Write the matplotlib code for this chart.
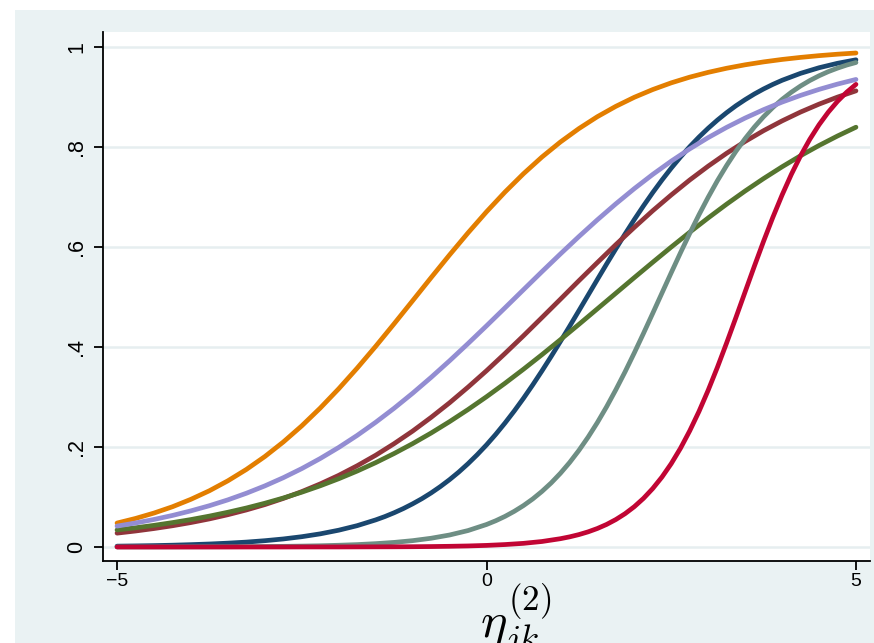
import numpy as np
import matplotlib.pyplot as plt
from matplotlib.patches import Rectangle

# latent trait values the curves were read at
theta = np.linspace(-5, 5, 41)                                   # step 0.25
theta_navy = np.r_[np.linspace(-5, -1.75, 14), np.linspace(-1.5, 3.875, 44),
                   np.linspace(4, 5, 5)]
theta_teal = np.r_[np.linspace(-5, -0.25, 20), np.linspace(0, 5, 41)]
theta_red = np.r_[np.linspace(-5, 0.75, 24), np.linspace(1, 5, 33)]

# P(y=1)
p_orange = [0.0479, 0.0571, 0.0679, 0.0805, 0.0954, 0.1125, 0.1324, 0.1551, 0.1809, 0.2100,
            0.2423, 0.2779, 0.3165, 0.3578, 0.4013, 0.4465, 0.4925, 0.5387, 0.5842, 0.6283,
            0.6704, 0.7099, 0.7465, 0.7799, 0.8100, 0.8368, 0.8606, 0.8813, 0.8994, 0.9149,
            0.9283, 0.9397, 0.9493, 0.9575, 0.9644, 0.9702, 0.9751, 0.9792, 0.9827, 0.9856,
            0.9880]
p_lavender = [0.0418, 0.0480, 0.0551, 0.0631, 0.0723, 0.0826, 0.0943, 0.1075, 0.1222, 0.1386,
              0.1568, 0.1770, 0.1991, 0.2232, 0.2494, 0.2775, 0.3075, 0.3392, 0.3724, 0.4069,
              0.4423, 0.4783, 0.5145, 0.5506, 0.5861, 0.6208, 0.6543, 0.6863, 0.7167, 0.7452,
              0.7717, 0.7962, 0.8188, 0.8393, 0.8579, 0.8747, 0.8898, 0.9032, 0.9152, 0.9258,
              0.9351]
p_maroon = [0.0277, 0.0320, 0.0369, 0.0425, 0.0489, 0.0562, 0.0646, 0.0741, 0.0848, 0.0971,
            0.1108, 0.1262, 0.1433, 0.1625, 0.1835, 0.2067, 0.2318, 0.2592, 0.2884, 0.3197,
            0.3525, 0.3870, 0.4224, 0.4588, 0.4955, 0.5325, 0.5688, 0.6047, 0.6392, 0.6726,
            0.7041, 0.7340, 0.7617, 0.7875, 0.8111, 0.8327, 0.8522, 0.8699, 0.8857, 0.8998,
            0.9123]
p_green = [0.0341, 0.0384, 0.0433, 0.0488, 0.0549, 0.0618, 0.0695, 0.0780, 0.0875, 0.0980,
           0.1096, 0.1224, 0.1365, 0.1519, 0.1687, 0.1870, 0.2067, 0.2279, 0.2507, 0.2749,
           0.3005, 0.3274, 0.3555, 0.3846, 0.4146, 0.4452, 0.4763, 0.5075, 0.5387, 0.5695,
           0.5999, 0.6295, 0.6581, 0.6857, 0.7120, 0.7369, 0.7604, 0.7825, 0.8030, 0.8220,
           0.8396]
p_navy = [0.0017, 0.0022, 0.0028, 0.0036, 0.0047, 0.0060, 0.0077, 0.0098, 0.0126, 0.0161,
          0.0206, 0.0263, 0.0336, 0.0427,
          0.0542, 0.0609, 0.0685, 0.0769, 0.0863, 0.0966, 0.1081, 0.1208, 0.1347, 0.1499,
          0.1666, 0.1847, 0.2042, 0.2253, 0.2479, 0.2719, 0.2973, 0.3241, 0.3521, 0.3811,
          0.4110, 0.4415, 0.4725, 0.5037, 0.5349, 0.5659, 0.5963, 0.6260, 0.6548, 0.6824,
          0.7089, 0.7340, 0.7577, 0.7799, 0.8006, 0.8198, 0.8375, 0.8538, 0.8687, 0.8824,
          0.8947, 0.9060, 0.9161, 0.9252,
          0.9334, 0.9473, 0.9585, 0.9674, 0.9744]
p_teal = [0.0001, 0.0001, 0.0001, 0.0002, 0.0003, 0.0004, 0.0005, 0.0007, 0.0010, 0.0013,
          0.0018, 0.0025, 0.0035, 0.0048, 0.0067, 0.0092, 0.0127, 0.0175, 0.0240, 0.0329,
          0.0450, 0.0525, 0.0612, 0.0713, 0.0828, 0.0960, 0.1111, 0.1281, 0.1474, 0.1690,
          0.1931, 0.2197, 0.2488, 0.2804, 0.3144, 0.3503, 0.3882, 0.4274, 0.4675, 0.5081,
          0.5486, 0.5884, 0.6271, 0.6643, 0.6995, 0.7326, 0.7631, 0.7913, 0.8168, 0.8399,
          0.8606, 0.8790, 0.8952, 0.9095, 0.9220, 0.9329, 0.9424, 0.9507, 0.9577, 0.9639,
          0.9690]
p_red = [0.0000, 0.0000, 0.0000, 0.0000, 0.0000, 0.0000, 0.0000, 0.0000, 0.0000, 0.0000,
         0.0001, 0.0001, 0.0001, 0.0002, 0.0003, 0.0004, 0.0006, 0.0009, 0.0014, 0.0021,
         0.0032, 0.0049, 0.0073, 0.0110,
         0.0166, 0.0203, 0.0248, 0.0303, 0.0370, 0.0451, 0.0549, 0.0666, 0.0806, 0.0973,
         0.1170, 0.1400, 0.1667, 0.1974, 0.2322, 0.2709, 0.3135, 0.3595, 0.4083, 0.4588,
         0.5103, 0.5616, 0.6116, 0.6593, 0.7039, 0.7451, 0.7823, 0.8153, 0.8444, 0.8696,
         0.8913, 0.9097, 0.9253]

yticks = [0, 0.2, 0.4, 0.6, 0.8, 1]
ytick_labels = ["0", ".2", ".4", ".6", ".8", "1"]
xticks = [-5, 0, 5]
xtick_labels = ["\u22125", "0", "5"]

plt.rcParams['font.family'] = ['Liberation Sans', 'DejaVu Sans']
plt.rcParams['mathtext.fontset'] = 'cm'

bg = '#eaf2f3'
fig = plt.figure(figsize=(8.74, 6.43), dpi=100, facecolor='white')
fig.patches.append(Rectangle((15/874, 0), 1 - 15/874, 1 - 10/643,
                             transform=fig.transFigure, facecolor=bg,
                             edgecolor='none', zorder=-5))

ax = fig.add_axes([103/874, 1 - 561/643, 767/874, 529/643])
ax.set_zorder(2)
ax.set_facecolor('white')

# stata s2color order
series = [
    (theta_navy, p_navy, '#1a476f'),
    (theta, p_maroon, '#90353b'),
    (theta, p_green, '#55752f'),
    (theta, p_orange, '#e37e00'),
    (theta_teal, p_teal, '#6e8e84'),
    (theta_red, p_red, '#c10534'),
    (theta, p_lavender, '#938dd2'),
]
for xs, ys, col in series:
    ax.plot(xs, ys, color=col, lw=3.4, solid_capstyle='round',
            solid_joinstyle='round', zorder=3)

ax.set_xlim(-5.19, 5.19)
ax.set_ylim(-0.028, 1.03)

ax.set_yticks(yticks)
ax.set_yticklabels(ytick_labels, rotation=90, va='center', fontsize=15.5)
ax.set_xticks(xticks)
ax.set_xticklabels(xtick_labels, fontsize=14)
ax.tick_params(axis='y', length=6.5, width=1.3, pad=5, color='black')
ax.tick_params(axis='x', length=6.5, width=1.3, pad=2, color='black')
for lab in ax.get_yticklabels():
    lab.set_fontsize(15.5)
for lab in ax.get_xticklabels():
    lab.set_fontsize(14)

ax.grid(axis='y', color='#e6eef0', lw=1.8, zorder=1)
ax.set_axisbelow(True)
for s in ['top', 'right']:
    ax.spines[s].set_visible(False)
for s in ['left', 'bottom']:
    ax.spines[s].set_linewidth(1.3)

fig.text(480/874, 1 - 637/643, r'$\eta^{(2)}_{jk}$', fontsize=36,
         ha='left', va='baseline', zorder=5)

fig.savefig('out.png', dpi=100, facecolor=fig.get_facecolor())
